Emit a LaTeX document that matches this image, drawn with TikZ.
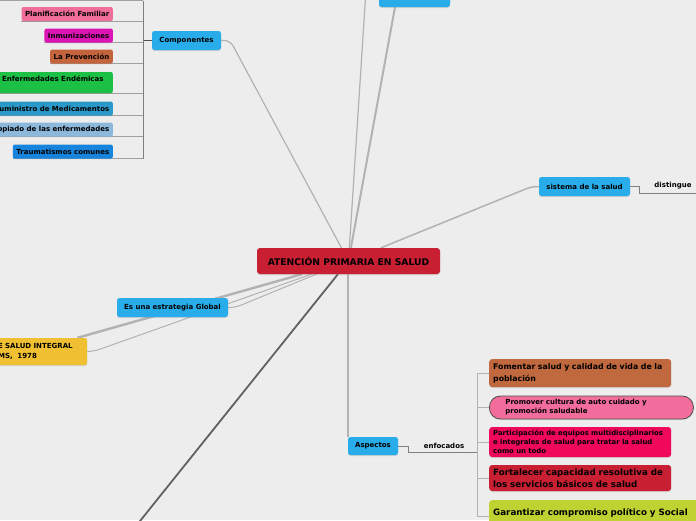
\documentclass[tikz,border=0pt]{standalone}
\usepackage{fontspec}
\setmainfont{DejaVu Sans}
\usetikzlibrary{backgrounds,shadows}
\definecolor{paper}{HTML}{EDEDED}
\definecolor{skyblue}{HTML}{28ACEA}
\definecolor{apsred}{HTML}{C81F32}
\definecolor{famPink}{HTML}{F26E9A}
\definecolor{vacMagenta}{HTML}{DC14B4}
\definecolor{prevBrown}{HTML}{C4643C}
\definecolor{endGreen}{HTML}{1CC044}
\definecolor{medTeal}{HTML}{2A98C8}
\definecolor{tratBlue}{HTML}{8CB8DC}
\definecolor{traumBlue}{HTML}{1684DC}
\definecolor{almaYellow}{HTML}{F0C032}
\definecolor{fomBrown}{HTML}{C0683E}
\definecolor{promPink}{HTML}{F26C9C}
\definecolor{partRed}{HTML}{F0085A}
\definecolor{garLime}{HTML}{C0D232}
\definecolor{linkGrey}{HTML}{B2B2B2}
\definecolor{twigGrey}{HTML}{A0A0A0}
\definecolor{stemGrey}{HTML}{505050}

\tikzset{
  topic/.style={fill=skyblue, rounded corners=2.5pt, inner sep=0pt, minimum height=19pt,
    font=\fontsize{7}{10}\selectfont\bfseries,
    drop shadow={shadow xshift=0pt, shadow yshift=-1pt, opacity=0.25}},
  leaf/.style={anchor=east, rounded corners=2pt, inner xsep=3.5pt, inner ysep=0pt,
    minimum height=14pt, font=\fontsize{7}{8.5}\selectfont\bfseries,
    drop shadow={shadow xshift=0pt, shadow yshift=-0.8pt, opacity=0.2}},
  idea/.style={anchor=west, align=left, rounded corners=3pt, inner xsep=4pt, inner ysep=0pt,
    drop shadow={shadow xshift=0pt, shadow yshift=-1pt, opacity=0.25}},
  note/.style={inner sep=0pt, font=\fontsize{7}{8.5}\selectfont\bfseries},
  link/.style={draw=linkGrey, line width=1.2pt},
  twig/.style={draw=twigGrey, line width=0.8pt}
}

\begin{document}
\begin{tikzpicture}[x=1pt, y=-1pt]
  \useasboundingbox (0,0) rectangle (696,520);
  \begin{scope}[on background layer]
    \fill[paper] (0,0) rectangle (696,520);
  \end{scope}

  % Centro
  \node[topic, fill=apsred, minimum width=183pt, minimum height=26pt, rounded corners=3pt,
    font=\fontsize{9.2}{11}\selectfont\bfseries] (aps) at (348.5,261) {ATENCIÓN PRIMARIA EN SALUD};

  % Ramas principales
  \node[topic, minimum width=71pt, minimum height=20pt] (upper) at (414.5,-3) {};
  \node[topic, minimum width=69pt] (comp) at (186.5,40.5) {Componentes};
  \node[topic, minimum width=91pt] (sist) at (584.5,186.5) {sistema de la salud};
  \node[topic, minimum width=111pt] (glob) at (172.5,307.5) {Es una estrategia Global};
  \node[topic, minimum width=50pt, minimum height=18pt] (asp) at (373,446) {Aspectos};
  \node[topic, fill=almaYellow, anchor=west, align=left, text width=91pt, inner xsep=4pt,
    minimum height=27pt] (decl) at (-12,351.5) {DE SALUD INTEGRAL\\OMS,\ \ 1978};

  % Componentes
  \node[leaf, fill=famPink] (plan) at (113,14) {Planificación Familiar};
  \node[leaf, fill=vacMagenta] (inmu) at (113,35.5) {Inmunizaciones};
  \node[leaf, fill=prevBrown] (prev) at (113,56.5) {La Prevención};
  \node[leaf, fill=endGreen, minimum width=120pt, minimum height=21pt, align=center] (ende) at (113,82.5) {Enfermedades Endémicas\\\mbox{}};
  \node[leaf, fill=medTeal] (sumi) at (113,108.5) {Suministro de Medicamentos};
  \node[leaf, fill=tratBlue] (trat) at (113,129.5) {Tratamiento apropiado de las enfermedades};
  \node[leaf, fill=traumBlue] (trau) at (113,151.5) {Traumatismos comunes};
  \coordinate (spine) at (143,0.5);
  \coordinate (prevleaf) at (-5,0.5);

  % Aspectos
  \node[note] (enf) at (444,446) {enfocados};
  \coordinate (hub) at (477,452.5);
  \node[idea, fill=fomBrown, text width=174pt, minimum height=28pt,
    font=\fontsize{7.8}{12}\selectfont\bfseries] (fom) at (489,373) {Fomentar salud y calidad de vida de la\\población};
  \node[idea, fill=promPink, draw=stemGrey, line width=0.8pt, rounded corners=11pt, text width=172pt,
    inner xsep=16pt, minimum height=23pt, font=\fontsize{7}{9}\selectfont\bfseries] (prom) at (489,407.5) {Promover cultura de auto cuidado y\\promoción saludable};
  \node[idea, fill=partRed, text width=174pt, minimum height=30pt,
    font=\fontsize{6.9}{9}\selectfont\bfseries] (part) at (489,442) {Participación de equipos multidisciplinarios\\e integrales de salud para tratar la salud\\como un todo};
  \node[idea, fill=apsred, text width=174pt, minimum height=26pt,
    font=\fontsize{8.7}{12}\selectfont\bfseries] (fort) at (489,478) {Fortalecer capacidad resolutiva de\\los servicios básicos de salud};
  \node[idea, anchor=north west, fill=garLime, text width=230pt, inner ysep=8.5pt,
    font=\fontsize{8.7}{12}\selectfont\bfseries] (gara) at (489,500) {Garantizar compromiso político y Social};

  % sistema de la salud
  \node[note] (dist) at (673,186) {distingue};
  \coordinate (edge) at (696,193);

  % extremos fuera del cuadro
  \coordinate (offtop) at (366,-10);
  \coordinate (offbot) at (124,541);

  \begin{scope}[on background layer]
    % enlaces al centro
    \draw[link, line width=2pt] ([xshift=-19.5pt]upper.south) -- (aps);
    \draw[link] (offtop) -- (aps);
    \draw[link, rounded corners=6pt] (comp.east) -- ++(9,0) -- (aps);
    \draw[link, line width=1.5pt, rounded corners=6pt] (sist.west) -- ++(-7,0) -- (aps);
    \draw[link, line width=1pt, rounded corners=6pt] (glob.east) -- ++(7,0) -- (aps);
    \draw[link, line width=1pt, rounded corners=6pt] (decl.east) -- ++(6,0) -- (aps);
    \draw[link, line width=2.4pt] ([xshift=-10pt]decl.north east) -- (aps);
    \draw[draw=stemGrey!90, line width=1.8pt] (aps) -- (offbot);
    \draw[link, line width=1.5pt] (asp.north west |- aps.south) -- (asp.north west);

    % Componentes
    \draw[draw=stemGrey, line width=1.3pt] (comp.west) -- (comp.west -| spine);
    \draw[twig, draw=gray] (spine) -- (spine |- trau.south);
    \draw[twig] (prevleaf) -- (spine);
    \foreach \n in {plan,inmu,prev,ende,sumi,trat,trau}
      \draw[twig] (\n.south west) -- (\n.south west -| spine);

    % Aspectos
    \draw[twig, draw=gray] (asp.east) -- ++(10,0) |- (hub);
    \foreach \n in {fom,prom,part,fort}
      \draw[twig, draw=linkGrey] (hub) |- (\n.west);
    \draw[twig, draw=linkGrey] (hub) |- ([yshift=-3.5pt]gara.west);

    % sistema de la salud
    \draw[twig, draw=gray] (sist.east) -- ++(9,0) |- (edge);
  \end{scope}
\end{tikzpicture}
\end{document}
